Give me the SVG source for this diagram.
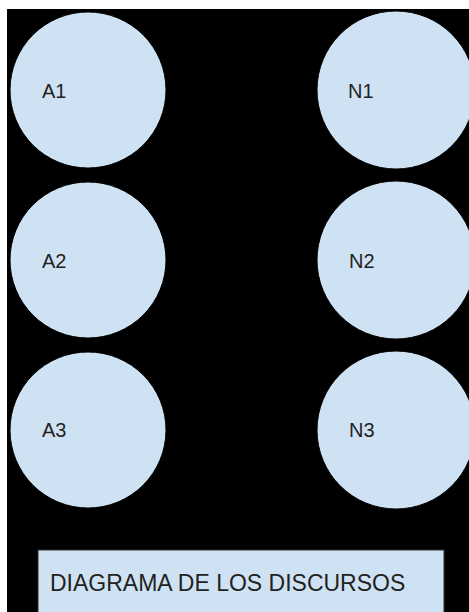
<svg xmlns="http://www.w3.org/2000/svg" width="469" height="612" viewBox="0 0 469 612">
<style>
.node circle{fill:#cfe2f3;stroke:#000;stroke-width:1}
.lbl{font-family:"Liberation Sans",Arial,sans-serif;font-size:20px;fill:#222}
.title{font-family:"Liberation Sans",Arial,sans-serif;font-size:23px;fill:#222}
</style>
<rect x="0" y="0" width="469" height="612" fill="#fff"/>
<rect x="7" y="9" width="462" height="603" fill="#000"/>
<g id="A1" class="node"><circle cx="88" cy="90" r="78"/><text class="lbl" x="42" y="98">A1</text></g>
<g id="A2" class="node"><circle cx="88" cy="260" r="78"/><text class="lbl" x="42" y="268">A2</text></g>
<g id="A3" class="node"><circle cx="88" cy="430" r="78"/><text class="lbl" x="42" y="437">A3</text></g>
<g id="N1" class="node"><circle cx="396" cy="90" r="79"/><text class="lbl" x="348" y="98">N1</text></g>
<g id="N2" class="node"><circle cx="396" cy="260" r="79"/><text class="lbl" x="349" y="268">N2</text></g>
<g id="N3" class="node"><circle cx="396" cy="430" r="79"/><text class="lbl" x="349" y="437">N3</text></g>
<g id="connectors"></g>
<g id="title"><rect x="38" y="550" width="406" height="70" fill="#cfe2f3" stroke="#333" stroke-width="1"/><text class="title" x="50" y="591">DIAGRAMA DE LOS DISCURSOS</text></g>
</svg>
